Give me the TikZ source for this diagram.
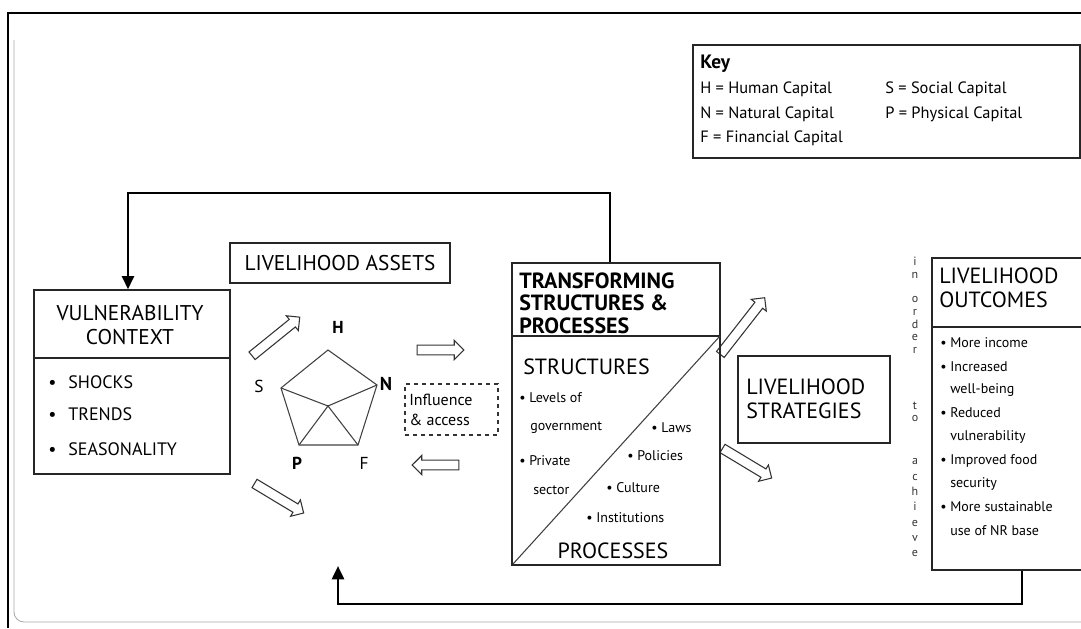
\documentclass[tikz,border=0pt]{standalone}
\usepackage{fontspec}
\setmainfont{PT Sans}
\usetikzlibrary{shapes.arrows,fit,arrows.meta}
\tikzset{
  box/.style={draw=black!85, line width=1pt, inner sep=0pt},
  hdr/.style={font=\fontsize{16}{17.5}\selectfont, align=center, inner sep=0pt},
  hdrl/.style={font=\fontsize{16.5}{18}\selectfont, align=left, inner sep=0pt, anchor=west},
  txt/.style={font=\fontsize{10.5}{12}\selectfont, inner sep=0pt, anchor=west},
  keytxt/.style={font=\fontsize{12.3}{13}\selectfont, inner sep=0pt, anchor=west},
  vtxt/.style={font=\fontsize{13.5}{15}\selectfont, inner sep=0pt, anchor=west},
  fb/.style={line width=2pt, -{Triangle[length=10pt,width=9pt]}},
  hollow/.style={draw=black!80, fill=white, line width=0.8pt, single arrow, inner sep=0pt,
     text height=6.5pt, text depth=0pt, single arrow head extend=3.5pt, single arrow head indent=0pt},
  pent/.style={draw=black!75, line width=0.8pt},
  letters/.style={font=\fontsize{9}{9.5}\selectfont, align=center, inner sep=0pt, text=black!80}
}
\begin{document}
\begin{tikzpicture}[x=0.75pt,y=-0.75pt]
\useasboundingbox (0,0) rectangle (1081,628);
\clip (0,0) rectangle (1081,628);
% outer frame
\draw[line width=2.2pt] (8,628) -- (8,13) -- (1085,13);
\draw[black!35, line width=0.6pt] (14,40) -- (14,612) to[out=-90,in=180] (24,622) -- (1085,622);

% key
\node[box, fit={(693,45) (1080,158)}] (key) {};
\node[font=\fontsize{14.5}{16}\selectfont\bfseries, inner sep=0pt, anchor=west] (keyt) at (700,64) {Key};
\node[keytxt] (kh) at (700,89) {H = Human Capital};
\node[keytxt] (ks) at (885,89) {S = Social Capital};
\node[keytxt] (kn) at (700,114) {N = Natural Capital};
\node[keytxt] (kp) at (885,114) {P = Physical Capital};
\node[keytxt] (kf) at (700,138) {F = Financial Capital};

% vulnerability context
\node[box, fit={(34,290) (230,474)}] (vc) {};
\draw[black!85, line width=0.8pt] (34,358) -- (230,358);
\node[hdr] (vch) at (130,325) {VULNERABILITY\\CONTEXT};
\node[vtxt] (v1) at (48,382) {\textbullet\hspace{9pt}SHOCKS};
\node[vtxt] (v2) at (48,414) {\textbullet\hspace{9pt}TRENDS};
\node[vtxt] (v3) at (48,449) {\textbullet\hspace{9pt}SEASONALITY};

% livelihood assets
\node[box, fit={(230,243) (450,283)}] (la) {};
\node[hdr] (lat) at (340,263) {LIVELIHOOD ASSETS};

% pentagon
\coordinate (pH) at (328,350);
\coordinate (pS) at (281,388);
\coordinate (pN) at (377,385);
\coordinate (pP) at (299,445);
\coordinate (pF) at (358,445);
\coordinate (pC) at (328,406);
\draw[pent] (pH) -- (pN) -- (pF) -- (pP) -- (pS) -- cycle;
\draw[pent] (pS) -- (pC) -- (pN) (pP) -- (pC) -- (pF);
\node[font=\fontsize{13}{14}\selectfont\bfseries, inner sep=0pt] (lH) at (338,327) {H};
\node[font=\fontsize{13}{14}\selectfont, inner sep=0pt] (lS) at (259,386) {S};
\node[font=\fontsize{14}{14}\selectfont\bfseries, inner sep=0pt] (lN) at (386,384) {N};
\node[font=\fontsize{13}{14}\selectfont\bfseries, inner sep=0pt] (lP) at (297,463) {P};
\node[font=\fontsize{13}{14}\selectfont, inner sep=0pt] (lF) at (364,463) {F};

% influence & access
\node[draw=black!80, dashed, line width=1pt, fit={(405,384) (498,435)}, inner sep=0pt] (ia) {};
\node[font=\fontsize{12}{15}\selectfont, align=left, inner sep=0pt, anchor=west] (iat) at (409,410) {Influence\\\& access};

% hollow arrows
\node[hollow, minimum height=46pt, rotate=39] (a1) at (274,338) {};
\node[hollow, minimum height=43pt, rotate=-31] (a2) at (277,497) {};
\node[hollow, minimum height=35pt, rotate=0] (a3) at (438,350) {};
\node[hollow, minimum height=35pt, rotate=180] (a4) at (438,465) {};
\node[hollow, minimum height=54pt, rotate=52] (a5) at (741,328) {};
\node[hollow, minimum height=43pt, rotate=-31] (a6) at (745,462) {};

% transforming structures & processes
\node[box, fit={(512,263) (720,565)}] (tsp) {};
\draw[black!85, line width=0.8pt] (512,336) -- (720,336);
\draw[black!75, line width=0.8pt] (720,336) -- (513,564);
\node[font=\fontsize{16.5}{16.8}\selectfont\bfseries, align=left, inner sep=0pt, anchor=west] (tsph) at (519,303) {TRANSFORMING\\STRUCTURES \&\\PROCESSES};
\node[font=\fontsize{16.5}{17}\selectfont, inner sep=0pt, anchor=west] (st) at (523,367) {STRUCTURES};
\node[txt] (s1) at (519,398) {\textbullet\ Levels of};
\node[txt] (s2) at (530,428) {government};
\node[txt] (s3) at (651,428) {\textbullet\ Laws};
\node[txt] (s4) at (519,461) {\textbullet\ Private};
\node[txt] (s5) at (533,490) {sector};
\node[txt] (s6) at (627,456) {\textbullet\ Policies};
\node[txt] (s7) at (606,488) {\textbullet\ Culture};
\node[txt] (s8) at (586,518) {\textbullet\ Institutions};
\node[font=\fontsize{16.5}{17}\selectfont, inner sep=0pt] (pr) at (613,551) {PROCESSES};

% livelihood strategies
\node[box, fit={(738,356) (890,443)}] (ls) {};
\node[hdrl] (lst) at (746,399) {LIVELIHOOD\\STRATEGIES};

% in order to achieve
\node[letters] (w1) at (915,268) {i\\n};
\node[letters] (w2) at (915,325) {o\\r\\d\\e\\r};
\node[letters] (w3) at (915,412) {t\\o};
\node[letters, font=\fontsize{9}{11.5}\selectfont] (w4) at (915,508) {a\\c\\h\\i\\e\\v\\e};

% livelihood outcomes
\node[box, fit={(932,258) (1095,570)}] (lo) {};
\draw[black!85, line width=0.8pt] (932,327) -- (1095,327);
\node[hdrl] (loh) at (939,288) {LIVELIHOOD\\OUTCOMES};
\node[txt] (o1) at (940,343) {\textbullet\ More income};
\node[txt] (o2) at (940,367) {\textbullet\ Increased};
\node[txt] (o3) at (950,390) {well-being};
\node[txt] (o4) at (940,413) {\textbullet\ Reduced};
\node[txt] (o5) at (950,437) {vulnerability};
\node[txt] (o6) at (940,461) {\textbullet\ Improved food};
\node[txt] (o7) at (950,484) {security};
\node[txt] (o8) at (940,507) {\textbullet\ More sustainable};
\node[txt] (o9) at (950,531) {use of NR base};

% feedback arrows
\coordinate (t1) at (610,193);
\coordinate (t2) at (128,193);
\draw[fb] (tsp.north -| t1) -- (t1) -- (t2) -- (vc.north -| t2);
\coordinate (b1) at (1022,604);
\coordinate (b2) at (338,604);
\coordinate (b3) at (338,566);
\draw[fb] (lo.south -| b1) -- (b1) -- (b2) -- (b3);
\end{tikzpicture}
\end{document}
